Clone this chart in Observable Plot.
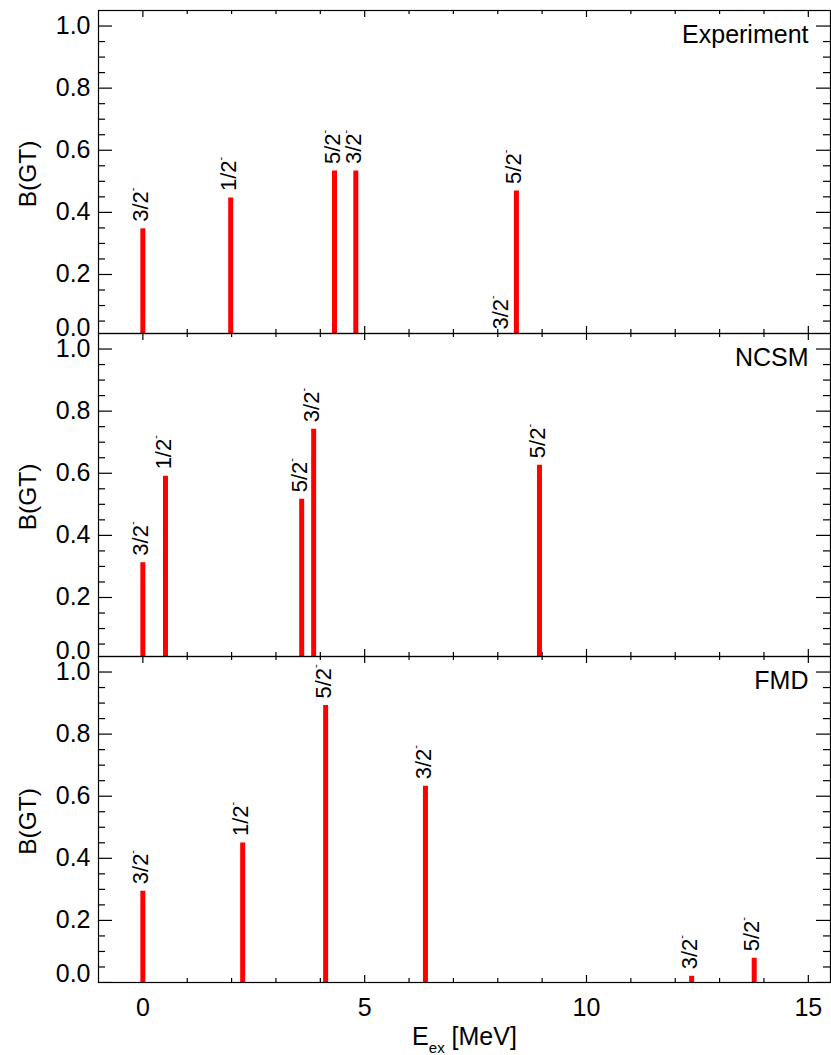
<!DOCTYPE html>
<html><head><meta charset="utf-8">
<script src="https://cdn.jsdelivr.net/npm/d3@7"></script>
<script src="https://cdn.jsdelivr.net/npm/@observablehq/plot@0.6"></script>
<style>
html,body{margin:0;padding:0;background:#fff;}
#chart{width:831px;}
#chart svg{display:block;overflow:visible;}
</style></head><body><div id="chart"></div>
<script>
// ---- data ----
const panelNames = ["Experiment", "NCSM", "FMD"];

const expE = [0, 1.98, 4.32, 4.80, 8.11, 8.42];
const expB = [0.347, 0.446, 0.533, 0.533, 0.0, 0.469];
const expJ = ["3/2⁻", "1/2⁻", "5/2⁻", "3/2⁻", "3/2⁻", "5/2⁻"];

const ncsmE = [0, 0.51, 3.58, 3.85, 8.94];
const ncsmB = [0.312, 0.590, 0.516, 0.742, 0.626];
const ncsmJ = ["3/2⁻", "1/2⁻", "5/2⁻", "3/2⁻", "5/2⁻"];

const fmdE = [0, 2.25, 4.12, 6.37, 12.37, 13.78];
const fmdB = [0.294, 0.449, 0.892, 0.632, 0.020, 0.078];
const fmdJ = ["3/2⁻", "1/2⁻", "5/2⁻", "3/2⁻", "3/2⁻", "5/2⁻"];

const yMajor = [0, 0.2, 0.4, 0.6, 0.8, 1.0];
const yTickLabels = ["0.0", "0.2", "0.4", "0.6", "0.8", "1.0"];
const xMajor = [0, 5, 10, 15];
const xTickLabels = ["0", "5", "10", "15"];
const yLabel = "B(GT)";
const xLabel = "E_ex [MeV]";

// ---- layout ----
const W = 831, ML = 98, MR = 1;
const FONT = "'Liberation Sans', Arial, Helvetica, sans-serif";
const FS = 25;
const xDomain = [-1, 15.5];
const yMinor = d3.range(0.05, 1.0001, 0.05).filter(v => !yMajor.some(m => Math.abs(m - v) < 1e-6));
const xMinor = d3.range(1, 15.5, 1).filter(v => !xMajor.includes(v));

function panel({name, E, B, J, height, marginTop, marginBottom, yDomain, bottom}) {
  const rows = E.map((e, i) => ({e, b: B[i], j: J[i]}));
  const fw = W - ML - MR;
  const fh = height - marginTop - marginBottom;
  const tk = {stroke: "black", strokeWidth: 1.2, clip: true};
  const marks = [
    // y ticks left & right (inward)
    Plot.tickY(yMajor, {y: d => d, insetRight: fw - 14, ...tk}),
    Plot.tickY(yMinor, {y: d => d, insetRight: fw - 7, ...tk}),
    Plot.tickY(yMajor, {y: d => d, insetLeft: fw - 14, ...tk}),
    Plot.tickY(yMinor, {y: d => d, insetLeft: fw - 7, ...tk}),
    // x ticks bottom & top (inward)
    Plot.tickX(xMajor, {x: d => d, insetTop: fh - 7, ...tk}),
    Plot.tickX(xMinor, {x: d => d, insetTop: fh - 4, ...tk}),
    Plot.tickX(xMajor, {x: d => d, insetBottom: fh - 7, ...tk}),
    Plot.tickX(xMinor, {x: d => d, insetBottom: fh - 4, ...tk}),
    Plot.ruleX(rows, {x: "e", y1: 0, y2: "b", stroke: "#ff0000", strokeWidth: 5, clip: true}),
    Plot.frame({stroke: "black", strokeWidth: 1.2}),
    Plot.axisY({ticks: yMajor.slice(1), tickFormat: d => yTickLabels[yMajor.indexOf(d)],
      tickSize: 0, tickPadding: 8, fontSize: FS, label: null}),
    Plot.text([0], {y: d => d, text: [yTickLabels[0]], frameAnchor: "left", dx: -8, dy: -9,
      textAnchor: "end", lineAnchor: "middle", fontSize: FS, fill: "black"}),
    Plot.text(rows, {x: "e", y: "b", text: "j", rotate: -90, textAnchor: "start", lineAnchor: "middle",
      dy: -7, dx: -2, fontSize: 22, fill: "black"}),
    Plot.text([yLabel], {text: d => d, frameAnchor: "left", rotate: -90, dx: -70, dy: 2,
      textAnchor: "middle", lineAnchor: "middle", fontSize: 24.5, fill: "black"}),
    Plot.text([name], {text: d => d, frameAnchor: "top-right", dx: -22, dy: 32, textAnchor: "end",
      lineAnchor: "bottom", fontSize: FS, fill: "black"})
  ];
  if (bottom) {
    marks.push(Plot.axisX({ticks: xMajor, tickFormat: d => xTickLabels[xMajor.indexOf(d)],
      tickSize: 0, tickPadding: 16, fontSize: FS, label: null}));
    marks.push(Plot.text([xLabel], {text: d => d, frameAnchor: "bottom", dy: 62, textAnchor: "middle",
      lineAnchor: "bottom", fontSize: FS, fill: "black"}));
  }
  return Plot.plot({
    width: W, height, marginLeft: ML, marginRight: MR, marginTop, marginBottom,
    style: {fontFamily: FONT, color: "black", background: "transparent", overflow: "visible"},
    x: {domain: xDomain, axis: bottom ? undefined : null},
    y: {domain: yDomain},
    marks
  });
}

const chart = document.getElementById("chart");
const plots = [
  panel({name: panelNames[0], E: expE, B: expB, J: expJ, height: 333, marginTop: 10, marginBottom: 0, yDomain: [0.01, 1.05]}),
  panel({name: panelNames[1], E: ncsmE, B: ncsmB, J: ncsmJ, height: 323, marginTop: 0, marginBottom: 0, yDomain: [0.01, 1.05]}),
  panel({name: panelNames[2], E: fmdE, B: fmdB, J: fmdJ, height: 399, marginTop: 0, marginBottom: 73, yDomain: [0, 1.05], bottom: true})
];
plots.forEach(p => chart.appendChild(p));

// post-process: superscript parity signs and subscript in x title
d3.select(chart).selectAll("svg text").each(function() {
  if (this.children.length) return;
  const s = this.textContent;
  const t = d3.select(this);
  if (s.endsWith("⁻")) {
    t.text(s.slice(0, -1));
    t.append("tspan").attr("font-size", 11).attr("dy", -12).text("-");
  } else if (s === xLabel) {
    const m = s.match(/^(.*?)_(\S+)(.*)$/);
    t.text(m[1]);
    t.append("tspan").attr("font-size", 15).attr("dy", 8).text(m[2]);
    t.append("tspan").attr("dy", -8).text(m[3]);
  }
});
</script></body></html>
